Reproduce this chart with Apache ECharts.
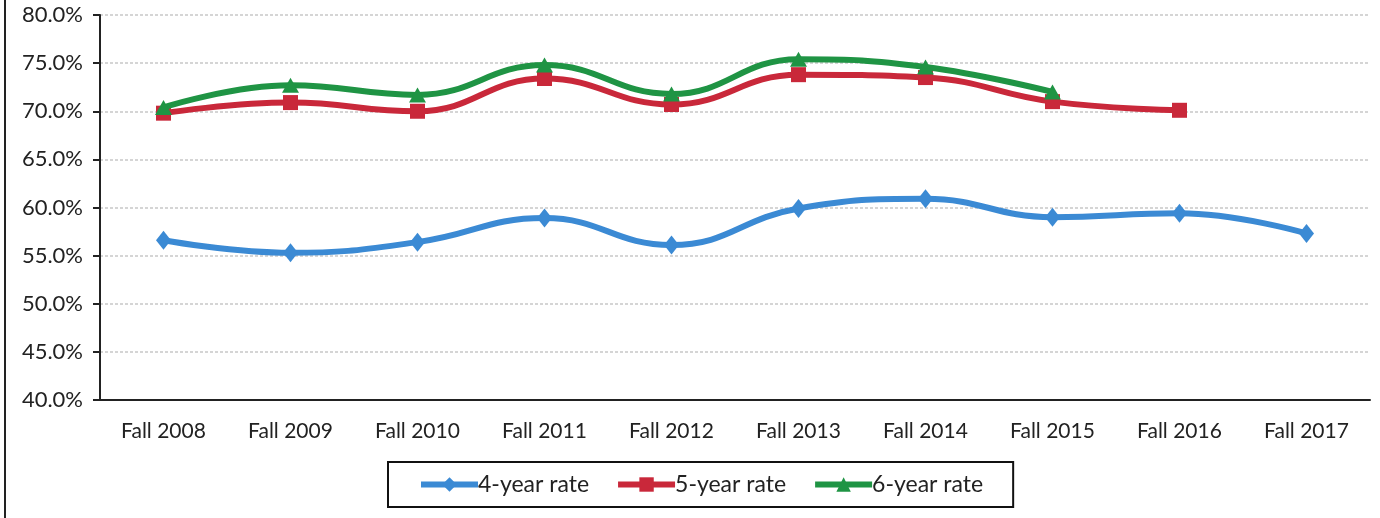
<!DOCTYPE html>
<html>
<head>
<meta charset="utf-8">
<script src="https://cdn.jsdelivr.net/npm/echarts@6/dist/echarts.min.js"></script>
<style>
html,body{margin:0;padding:0;background:#fff;}
#c{width:1380px;height:518px;}
</style>
</head>
<body>
<div id="c"></div>
<script>
const categories = ['Fall 2008','Fall 2009','Fall 2010','Fall 2011','Fall 2012','Fall 2013','Fall 2014','Fall 2015','Fall 2016','Fall 2017'];
const rate4 = [56.6, 55.3, 56.4, 58.9, 56.1, 59.9, 60.9, 59.0, 59.4, 57.3];
const rate5 = [69.8, 70.9, 70.0, 73.4, 70.7, 73.8, 73.5, 71.0, 70.1, null];
const rate6 = [70.4, 72.7, 71.7, 74.8, 71.8, 75.4, 74.6, 72.0, null, null];
const seriesNames = ['4-year rate','5-year rate','6-year rate'];
const colors = ['#3b8ad4','#c9283a','#1f9444'];
const symbols = ['diamond','rect','triangle'];
const symbolSizes = [[15,19],[15,15],[17,15]];

const FONT = 'Lato';
const chart = echarts.init(document.getElementById('c'));
const data = [rate4, rate5, rate6];
chart.setOption({
  animation: false,
  backgroundColor: '#fff',
  grid: {left: 100, right: 10, top: 15, bottom: 118, containLabel: false},
  legend: {
    left: 388, top: 462,
    padding: [11, 30, 11, 30],
    itemGap: 26,
    itemWidth: 57, itemHeight: 18,
    borderColor: '#111', borderWidth: 2,
    lineStyle: {width: 6},
    textStyle: {fontFamily: FONT, fontSize: 23, color: '#222', padding: [0,0,0,-5]},
    data: seriesNames
  },
  xAxis: {
    type: 'category',
    data: categories,
    boundaryGap: true,
    axisLine: {lineStyle: {color: '#222', width: 2}},
    axisTick: {alignWithLabel: true, length: 7, lineStyle: {color: '#222', width: 2}},
    axisLabel: {fontFamily: FONT, fontSize: 21, color: '#222', margin: 21}
  },
  yAxis: {
    type: 'value',
    min: 40, max: 80, interval: 5,
    axisLine: {show: true, lineStyle: {color: '#222', width: 2}},
    axisTick: {show: true, length: 7, lineStyle: {color: '#222', width: 2}},
    axisLabel: {fontFamily: FONT, fontSize: 22, color: '#222', margin: 17, formatter: v => v.toFixed(1) + '%'},
    splitLine: {lineStyle: {color: '#c8c8c8', type: [3,2], width: 1.5}}
  },
  graphic: [{type: 'line', shape: {x1: 5, y1: 0, x2: 5, y2: 518}, style: {stroke: '#222', lineWidth: 2}}],
  series: seriesNames.map((n, i) => ({
    name: n,
    type: 'line',
    data: data[i],
    smooth: 0.45,
    symbol: symbols[i],
    symbolSize: symbolSizes[i],
    showAllSymbol: true,
    itemStyle: {color: colors[i]},
    lineStyle: {color: colors[i], width: 6},
    z: 2 + i
  }))
});
</script>
</body>
</html>
